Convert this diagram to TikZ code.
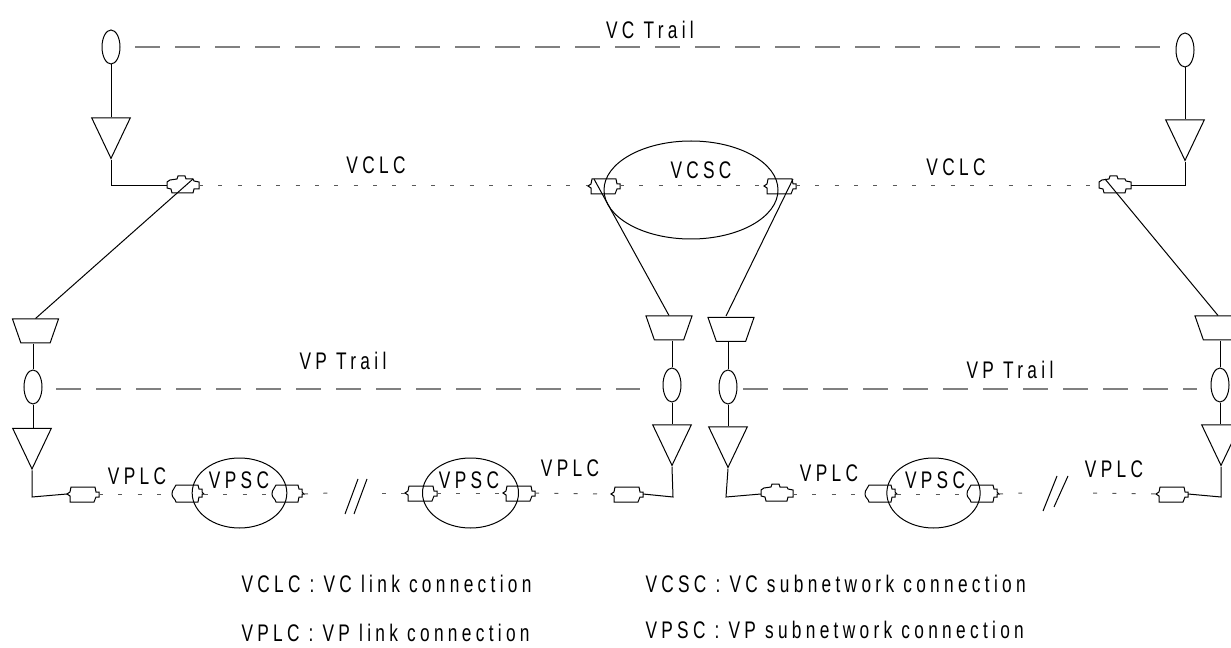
\documentclass[tikz,border=0pt]{standalone}
\usepackage{fontspec}
\setmainfont{Liberation Sans}[FakeStretch=0.72,LetterSpace=18]
\usetikzlibrary{shapes.geometric}

\tikzset{every picture/.style={line width=0.75pt}}
\tikzset{
  sink/.style={draw,ellipse,inner sep=0pt,minimum width=13.5pt,minimum height=25.5pt},
  adapt/.style={draw,trapezium,trapezium stretches=true,shape border rotate=180,trapezium left angle=74,trapezium right angle=74,inner sep=0pt,text width=2pt,text height=2pt,text depth=0pt,minimum width=34.5pt,minimum height=18pt},
  term/.style={draw,isosceles triangle,isosceles triangle stretches=true,shape border rotate=-90,inner sep=0pt,minimum height=30.5pt,minimum width=29pt},
  snc/.style={draw,ellipse,inner sep=0pt},
  lab/.style={inner sep=0pt,font=\fontsize{18pt}{20pt}\selectfont},
  legend/.style={lab,anchor=west},
  trail/.style={dash pattern=on 18.75pt off 11.25pt,black!50,line width=1pt},
  lc/.style={dash pattern=on 3pt off 11.5pt,black!65},
  port/.pic={
    \coordinate (-w) at (-16,0);
    \coordinate (-e) at (16,0);
    \coordinate (-sw) at (-10,7);
    \coordinate (-se) at (10,7);
    \draw (-16,-2) -- (-12,-3) -- (-11,-7) -- (10,-7) -- (11,-3) -- (16,-3) -- (16,4) -- (11,5) -- (10,7) -- (3,7) -- (2,10) -- (-5,10) -- (-6,7) -- (-13,6) -- (-16,4) -- cycle;
  },
  portnose/.pic={
    \coordinate (-w) at (-16,0);
    \coordinate (-e) at (16,0);
    \draw (-12,-8) -- (10,-8) -- (11,-3) -- (14,-3) -- (14,0) -- (16,0) -- (14,2) -- (14,5) -- (11,5) -- (10,9) -- (-12,9) .. controls (-13,5) and (-16,5) .. (-16,0) .. controls (-16,-4) and (-13,-4) .. (-12,-8) -- cycle;
  },
  portplain/.pic={
    \coordinate (-w) at (-16,0);
    \coordinate (-e) at (16,0);
    \coordinate (-sw) at (-10,7);
    \coordinate (-se) at (13,7);
    \draw (-13,-8) -- (11,-8) -- (13,-3) -- (16,-3) -- (16,2) -- (13,2) -- (12,7) -- (-12,7) -- (-13,2) -- (-16,0) -- (-13,-2) -- cycle;
  },
}

\begin{document}
\begin{tikzpicture}[x=0.75pt,y=0.75pt,yscale=-1,xscale=1]
\useasboundingbox (0,0) rectangle (1231,648);

% VC level
\node[sink] (snkA) at (111,47) {};
\node[sink] (snkB) at (1185,50) {};
\node[term] (trmA) at (111,130) {};
\node[term] (trmB) at (1185,132) {};
\node[snc,minimum width=130.5pt,minimum height=73.5pt] (vcsc) at (691,190) {};
\pic (pVa) at (183,186) {port};
\pic (pVb) at (604,186) {portplain};
\pic (pVc) at (780,186) {portplain};
\pic (pVd) at (1115,186) {port};
\coordinate (tVa) at (135,47);
\coordinate (tVb) at (1160,47);
\coordinate (elA) at (111,186);
\coordinate (elB) at (1185,186);
\draw[trail] (tVa) -- (tVb);
\draw (snkA.south) -- (trmA.north);
\draw (snkB.south) -- (trmB.north);
\draw (trmA.south) -- (elA) -- (pVa-w);
\draw (trmB.south) -- (elB) -- (pVd-e);
\draw[lc] (pVa-e) -- (pVb-w);
\draw[lc] (pVb-e) -- (pVc-w);
\draw[lc] (pVc-e) -- (pVd-w);

% VP level
\node[adapt] (adA) at (35.5,331) {};
\node[adapt] (adB) at (669,328) {};
\node[adapt] (adC) at (731,329.5) {};
\node[adapt] (adD) at (1218,328) {};
\node[sink] (snkC) at (33,387) {};
\node[sink] (snkD) at (672,385) {};
\node[sink] (snkE) at (728,387) {};
\node[sink] (snkF) at (1220,385) {};
\node[term] (trmC) at (32,440.5) {};
\node[term] (trmD) at (672,437) {};
\node[term] (trmE) at (728,439) {};
\node[term] (trmF) at (1221,437) {};
\coordinate (drC) at (726,316);
\draw (pVa-se) -- (adA.north);
\draw (pVb-sw) -- (adB.north);
\draw (pVc-se) -- (drC);
\draw (pVd-sw) -- (adD.north);
\foreach \ad/\snk/\trm in {adA/snkC/trmC,adB/snkD/trmD,adC/snkE/trmE,adD/snkF/trmF}
  \draw (\ad.south -| \snk.north) -- (\snk.north) (\snk.south) -- (\snk.south |- \trm.north);
\coordinate (tPa) at (56,389);
\coordinate (tPb) at (640,389);
\coordinate (tPc) at (743,389);
\coordinate (tPd) at (1197,389);
\draw[trail] (tPa) -- (tPb);
\draw[trail] (tPc) -- (tPd);

% VP link connections
\node[snc,minimum width=71pt,minimum height=52.5pt] (vpscA) at (239.5,493) {};
\node[snc,minimum width=72pt,minimum height=52.5pt] (vpscB) at (470.5,493) {};
\node[snc,minimum width=70pt,minimum height=52.5pt] (vpscC) at (933.5,493) {};
\pic (pPa) at (83,494) {portplain};
\pic (pPb) at (188,494) {portnose};
\pic (pPc) at (288,494) {portnose};
\pic (pPd) at (421,493) {portplain};
\pic (pPe) at (519,493) {portplain};
\pic (pPf) at (627,494) {portplain};
\pic (pPg) at (777,494) {port};
\pic (pPh) at (881,494) {portnose};
\pic (pPi) at (983,494) {portnose};
\pic (pPj) at (1172,494) {portplain};
\coordinate (elC) at (32,497);
\coordinate (elD) at (673,497);
\coordinate (elE) at (726,497);
\coordinate (elF) at (1221,497);
\draw (trmC.south) -- (elC) -- (pPa-w);
\draw (trmD.south) -- (elD) -- (pPf-e);
\draw (trmE.south) -- (elE) -- (pPg-w);
\draw (trmF.south) -- (elF) -- (pPj-e);
\coordinate (brA) at (330,493);
\coordinate (brB) at (382,493);
\coordinate (brC) at (1022,493);
\coordinate (brD) at (1093,493);
\draw[lc] (pPa-e) -- (pPb-w);
\draw[lc] (pPb-e) -- (pPc-w);
\draw[lc] (pPc-e) -- (brA);
\draw[lc] (brB) -- (pPd-w);
\draw[lc] (pPd-e) -- (pPe-w);
\draw[lc] (pPe-e) -- (pPf-w);
\draw[lc] (pPg-e) -- (pPh-w);
\draw[lc] (pPh-e) -- (pPi-w);
\draw[lc] (pPi-e) -- (brC);
\draw[lc] (brD) -- (pPj-w);
% breaks
\draw (345,514) -- (358,479) (354,514) -- (367,479);
\draw (1043,511) -- (1057,476) (1054,507) -- (1068,476);

% Text Node
\node[lab] (lbA) at (650,30) {VC Trail};
\node[lab] (lbB) at (376,165) {VCLC};
\node[lab] (lbC) at (701,170) {VCSC};
\node[lab] (lbD) at (956,167) {VCLC};
\node[lab] (lbE) at (343,361) {VP Trail};
\node[lab] (lbF) at (1010,370) {VP Trail};
\node[lab] (lbG) at (137,476) {VPLC};
\node[lab] (lbH) at (239,480) {VPSC};
\node[lab] (lbI) at (469,480) {VPSC};
\node[lab] (lbJ) at (570,468) {VPLC};
\node[lab] (lbK) at (829,473) {VPLC};
\node[lab] (lbL) at (935,480) {VPSC};
\node[lab] (lbM) at (1114,469) {VPLC};
\node[legend] (lgA) at (241,584) {VCLC : VC link connection};
\node[legend] (lgB) at (645,584) {VCSC : VC subnetwork connection};
\node[legend] (lgC) at (241,633) {VPLC : VP link connection};
\node[legend] (lgD) at (645,630) {VPSC : VP subnetwork connection};
\end{tikzpicture}
\end{document}
